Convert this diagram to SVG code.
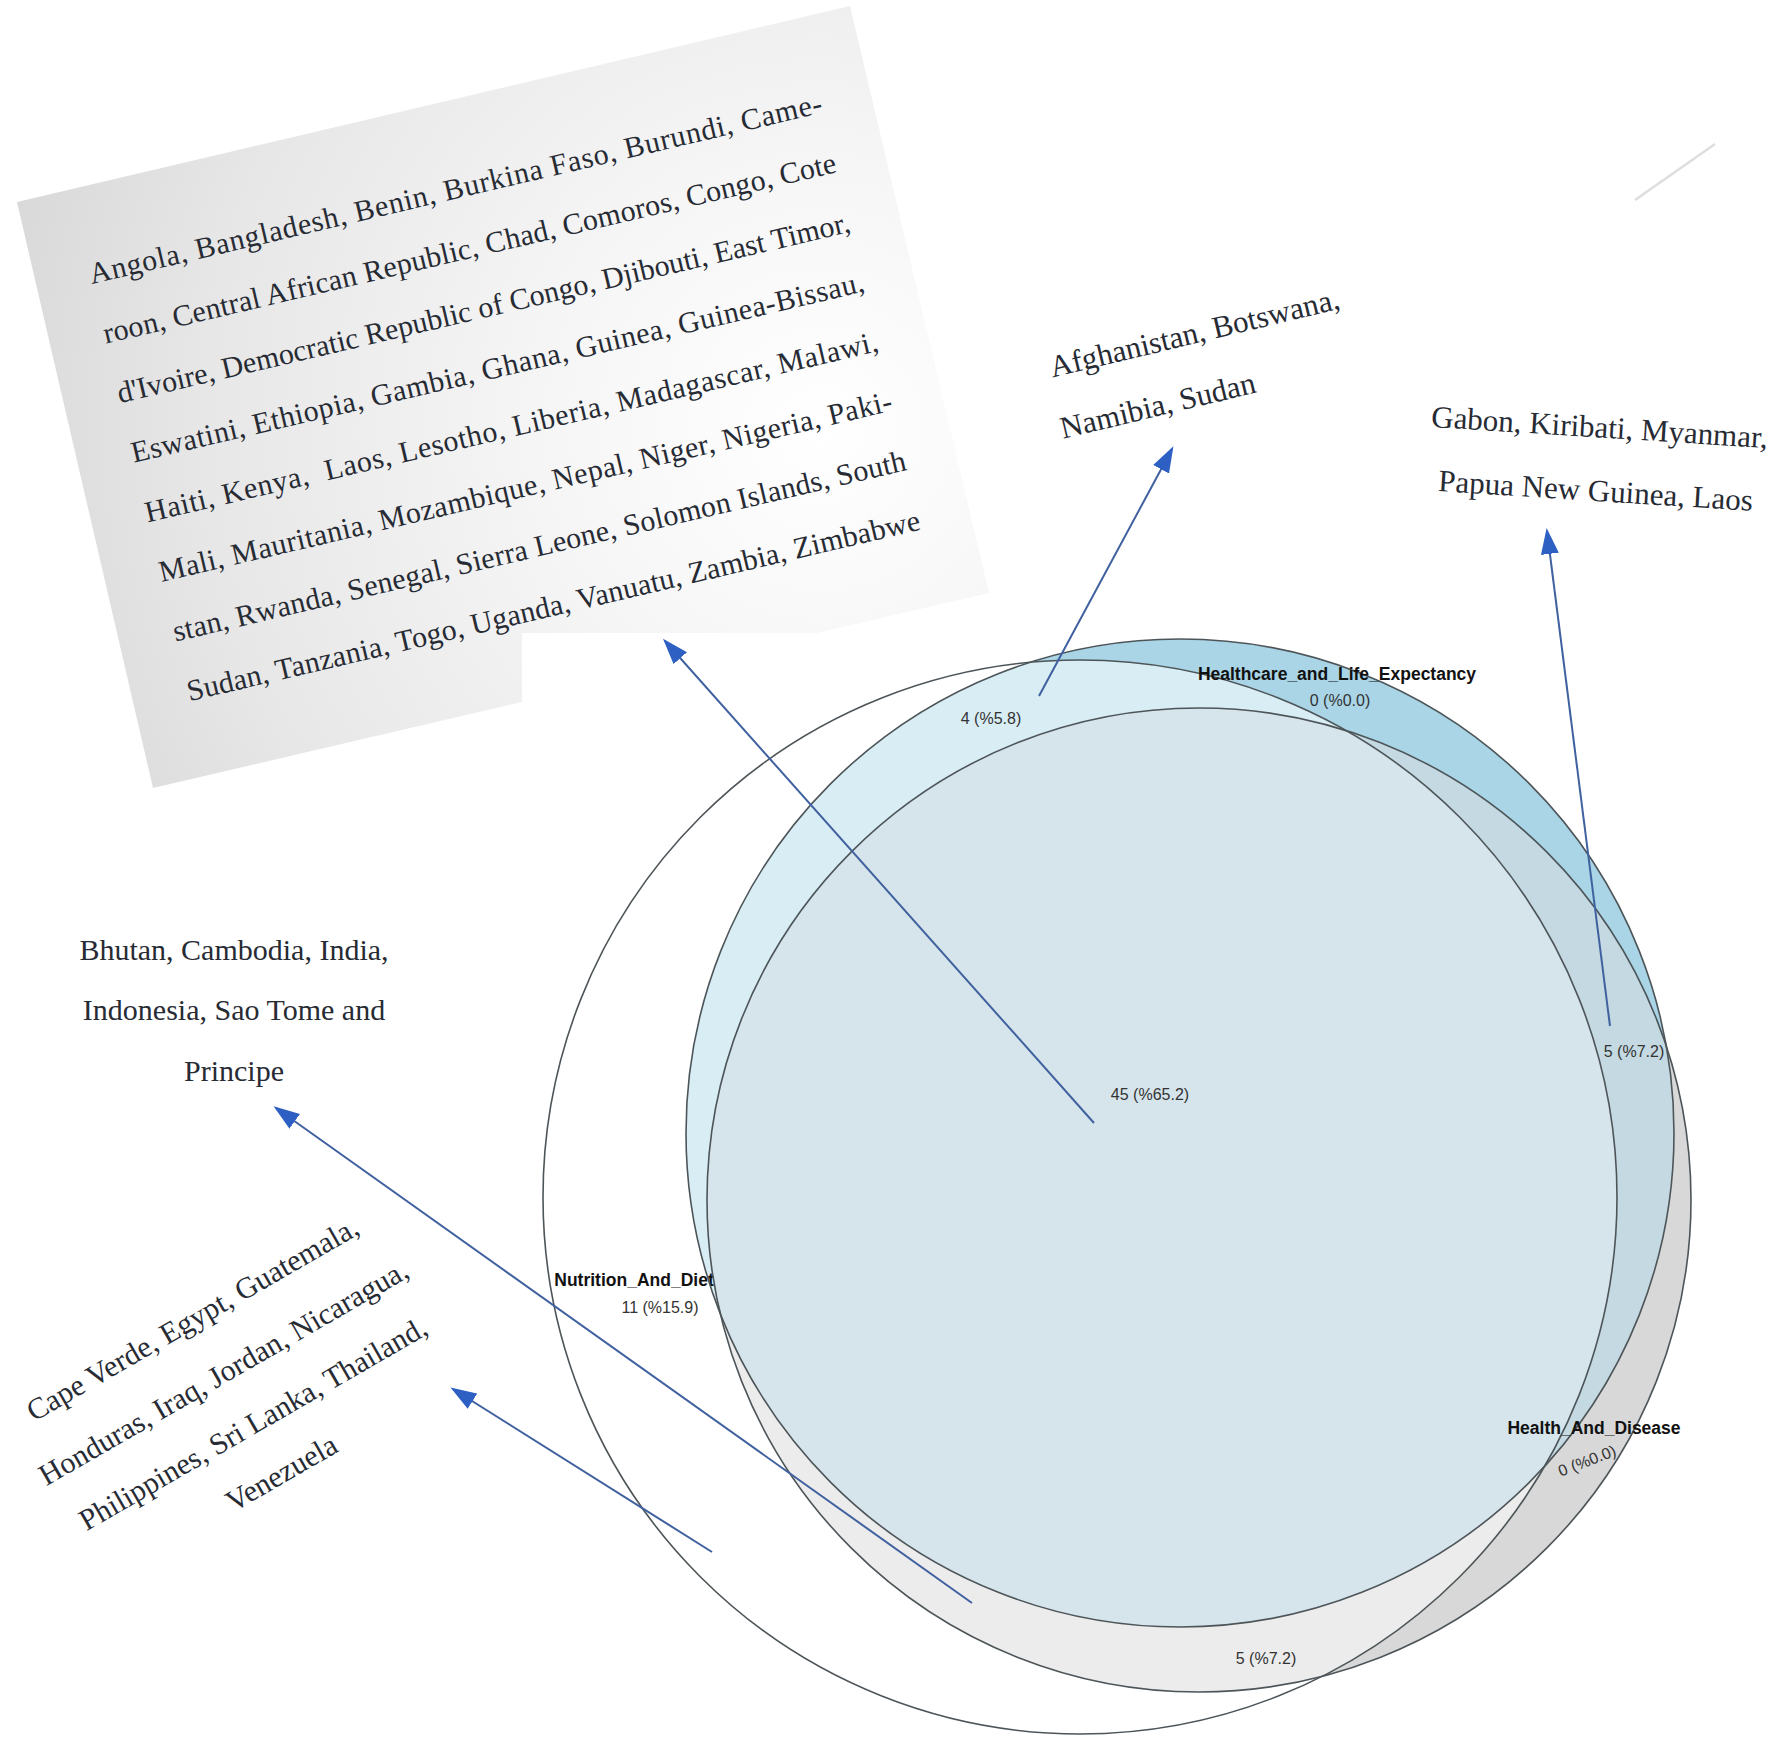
<svg xmlns="http://www.w3.org/2000/svg" width="1783" height="1747" viewBox="0 0 1783 1747">
<style>
.serif{font-family:"Liberation Serif","Times New Roman",serif;fill:#272b34;}
.lbl{font-family:"Liberation Sans",Arial,sans-serif;font-weight:bold;font-size:17.5px;fill:#111;text-anchor:middle;}
.num{font-family:"Liberation Sans",Arial,sans-serif;font-size:16px;fill:#333;text-anchor:middle;}
.ring{fill:none;stroke:#4d5559;stroke-width:1.6;}
.conn{stroke:#40619f;stroke-width:2;fill:none;marker-end:url(#arrowHead);}
</style>
<defs>
<radialGradient id="paperGrad" gradientUnits="userSpaceOnUse" cx="820" cy="430" r="880">
<stop offset="0" stop-color="#ffffff"/>
<stop offset="0.3" stop-color="#f6f6f6"/>
<stop offset="0.7" stop-color="#e7e7e7"/>
<stop offset="1" stop-color="#d6d6d6"/>
</radialGradient>
<clipPath id="cN"><circle cx="1080" cy="1197" r="537"/></clipPath>
<clipPath id="cH"><circle cx="1180" cy="1133" r="494"/></clipPath>
<clipPath id="cD"><circle cx="1199" cy="1200" r="492"/></clipPath>
<marker id="arrowHead" markerUnits="userSpaceOnUse" markerWidth="26" markerHeight="20" viewBox="0 0 26 20" refX="23" refY="10" orient="auto">
<path d="M0,1 L26,10 L0,19 Z" fill="#2e60c4"/>
</marker>
</defs>
<rect width="1783" height="1747" fill="#ffffff"/>

<g id="venn">
<circle cx="1199" cy="1200" r="492" fill="#d8d8d8"/>
<circle cx="1180" cy="1133" r="494" fill="#a9d5e6"/>
<circle cx="1180" cy="1133" r="494" fill="#c4d9e1" clip-path="url(#cD)"/>
<circle cx="1199" cy="1200" r="492" fill="#ececec" clip-path="url(#cN)"/>
<circle cx="1180" cy="1133" r="494" fill="#d9edf5" clip-path="url(#cN)"/>
<g clip-path="url(#cN)"><circle cx="1180" cy="1133" r="494" fill="#d6e5ec" clip-path="url(#cD)"/></g>
<g id="set-nutrition"><circle class="ring" cx="1080" cy="1197" r="537"/>
<text class="lbl" x="634" y="1286">Nutrition_And_Diet</text>
<text class="num" x="660" y="1313">11 (%15.9)</text></g>
<g id="set-healthcare"><circle class="ring" cx="1180" cy="1133" r="494"/>
<text class="lbl" x="1337" y="680">Healthcare_and_Life_Expectancy</text>
<text class="num" x="1340" y="706">0 (%0.0)</text></g>
<g id="set-health"><circle class="ring" cx="1199" cy="1200" r="492"/>
<text class="lbl" x="1594" y="1434">Health_And_Disease</text>
<text class="num" transform="translate(1589,1466) rotate(-21)" x="0" y="0">0 (%0.0)</text></g>
<text class="num" x="991" y="724">4 (%5.8)</text>
<text class="num" x="1150" y="1100">45 (%65.2)</text>
<text class="num" x="1634" y="1057">5 (%7.2)</text>
<text class="num" x="1266" y="1664">5 (%7.2)</text>
</g>

<g id="paper-node">
<polygon points="17,202 850,6 989,593 817,633 522,633 522,702 153,788" fill="url(#paperGrad)"/>
<g class="serif" font-size="30" transform="translate(17,202) rotate(-13.2)">
<text x="54" y="97" textLength="752" lengthAdjust="spacing">Angola, Bangladesh, Benin, Burkina Faso, Burundi, Came-</text>
<text x="54" y="158.2" textLength="752" lengthAdjust="spacing">roon, Central African Republic, Chad, Comoros, Congo, Cote</text>
<text x="54" y="219.4" textLength="752" lengthAdjust="spacing">d'Ivoire, Democratic Republic of Congo, Djibouti, East Timor,</text>
<text x="54" y="280.6" textLength="752" lengthAdjust="spacing">Eswatini, Ethiopia, Gambia, Ghana, Guinea, Guinea-Bissau,</text>
<text x="54" y="341.8" textLength="752" lengthAdjust="spacing" xml:space="preserve">Haiti, Kenya,  Laos, Lesotho, Liberia, Madagascar, Malawi,</text>
<text x="54" y="403" textLength="752" lengthAdjust="spacing">Mali, Mauritania, Mozambique, Nepal, Niger, Nigeria, Paki-</text>
<text x="54" y="464.2" textLength="752" lengthAdjust="spacing">stan, Rwanda, Senegal, Sierra Leone, Solomon Islands, South</text>
<text x="54" y="525.4" textLength="752" lengthAdjust="spacing">Sudan, Tanzania, Togo, Uganda, Vanuatu, Zambia, Zimbabwe</text>
</g>
</g>

<g id="node-afghanistan" class="serif" font-size="31" transform="translate(1052.5,377.6) rotate(-13.5)">
<text x="0" y="0">Afghanistan, Botswana,</text>
<text x="-4" y="62">Namibia, Sudan</text>
</g>

<g id="node-gabon" class="serif" font-size="31" text-anchor="middle" transform="translate(1599,437.5) rotate(3.6)">
<text x="0" y="0">Gabon, Kiribati, Myanmar,</text>
<text x="0" y="63.6">Papua New Guinea, Laos</text>
</g>

<g id="node-bhutan" class="serif" font-size="30" text-anchor="middle">
<text x="234" y="960">Bhutan, Cambodia, India,</text>
<text x="234" y="1020">Indonesia, Sao Tome and</text>
<text x="234" y="1081">Principe</text>
</g>

<g id="node-capeverde" class="serif" font-size="30" text-anchor="middle" transform="translate(197.5,1327.5) rotate(-30)">
<text x="0" y="0">Cape Verde, Egypt, Guatemala,</text>
<text x="0" y="62">Honduras, Iraq, Jordan, Nicaragua,</text>
<text x="0" y="121">Philippines, Sri Lanka, Thailand,</text>
<text x="0" y="178">Venezuela</text>
</g>

<line id="faint-mark" x1="1635" y1="200" x2="1715" y2="144" stroke="#dedede" stroke-width="2.5"/>

<g id="connectors">
<path class="conn" d="M1094,1123 L665,641"/>
<path class="conn" d="M1039,696 L1172,449"/>
<path class="conn" d="M1610,1026 L1547,531"/>
<path class="conn" d="M972,1603 L276,1108"/>
<path class="conn" d="M712,1552 L453,1389"/>
</g>
</svg>
